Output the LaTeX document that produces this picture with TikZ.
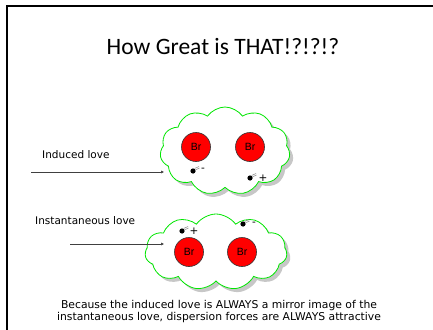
\documentclass[tikz,border=0pt]{standalone}
\usepackage{fontspec}
\setmainfont{DejaVu Sans}
\newfontfamily\titlefont{Carlito}
\newfontfamily\labelfont{Liberation Sans}
\usetikzlibrary{shapes.symbols,shadows,arrows.meta}
\definecolor{cloudgreen}{RGB}{0,230,0}
\definecolor{brred}{RGB}{255,0,0}
\tikzset{
  puff/.style={cloud, cloud puffs=11, cloud puff arc=110, draw=cloudgreen, line width=0.8pt,
    fill=white, drop shadow={shadow xshift=3.5pt, shadow yshift=-3.5pt, fill=black!22, opacity=1}},
  atom/.style={circle, fill=brred, draw=black!80, line width=0.6pt, minimum size=29pt,
    inner sep=0pt, font=\labelfont\fontsize{10.5}{12}\selectfont},
  lbl/.style={font=\fontsize{10.5}{12}\selectfont, anchor=west, inner sep=0pt},
  lovearrow/.style={-{Latex[length=3pt,width=3pt]}, black!75, line width=0.5pt},
  charge/.style={font=\fontsize{10.5}{12}\selectfont, inner sep=0pt}
}
% a moving electron: dot with two short motion streaks
\newcommand{\electron}[2]{%
  \fill[black] (#1,#2) circle (2.6);
  \draw[black!50, line width=0.45pt] (#1+1.5,#2-2.5) -- (#1+6,#2-4.5)
    (#1+2.5,#2-1.2) -- (#1+6.5,#2-3);
}
\begin{document}
\begin{tikzpicture}[x=1pt,y=-1pt]
\useasboundingbox (0,0) rectangle (433,329);
\fill[white] (0,0) rectangle (433,329);
% slide frame
\draw[black, line width=2pt] (7,340) -- (7,6) -- (440,6);

\node[font=\titlefont\fontsize{23.5}{26}\selectfont] (title) at (223,47) {How Great is THAT!?!?!?};

% upper molecule
\node[puff, minimum width=130pt, minimum height=88pt, inner sep=0pt] (cloudA) at (225,151) {};
\node[atom] (brA1) at (196,147) {Br};
\node[atom] (brA2) at (250,147) {Br};
\electron{193}{171}
\node[charge] (mA) at (203,170) {-};
\electron{250}{178}
\node[charge] (pA) at (263,178) {+};

% lower molecule
\node[puff, minimum width=142pt, minimum height=76pt, inner sep=0pt] (cloudB) at (216,252) {};
\node[atom] (brB1) at (189,252) {Br};
\node[atom] (brB2) at (242,252) {Br};
\electron{182}{231}
\node[charge] (pB) at (194,231) {+};
\electron{243}{224}
\node[charge] (mB) at (254,224) {-};

% labels and pointers
\node[lbl] (ind) at (42,155) {Induced love};
\coordinate (indS) at (31,172);
\coordinate (indE) at (164,172);
\draw[lovearrow] (indS) -- (indE);

\node[lbl] (inst) at (35,221) {Instantaneous love};
\coordinate (instS) at (70,244);
\coordinate (instE) at (164,244);
\draw[lovearrow] (instS) -- (instE);

\node[font=\fontsize{10.8}{12}\selectfont, align=center, inner sep=0pt] (note) at (219,312)
  {Because the induced love is ALWAYS a mirror image of the\\
   instantaneous love, dispersion forces are ALWAYS attractive};
\end{tikzpicture}
\end{document}
